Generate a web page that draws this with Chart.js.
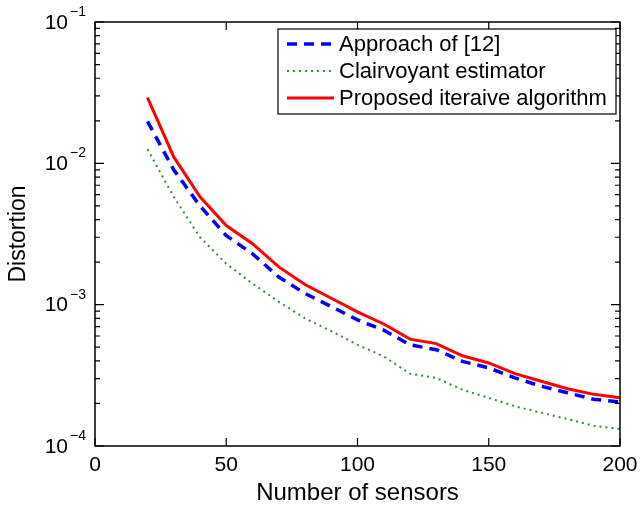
<!DOCTYPE html>
<html>
<head>
  <meta charset="utf-8">
  <script src="https://cdn.jsdelivr.net/npm/chart.js@4.4.0/dist/chart.umd.min.js"></script>
  <style>
    html, body { margin: 0; padding: 0; background: #fff; }
    #wrap { position: relative; width: 641px; height: 508px; }
  </style>
</head>
<body>
  <div id="wrap"><canvas id="myChart" width="641" height="508"></canvas></div>

  <script type="text/javascript">
    // data
    var sensors = [20, 30, 40, 50, 60, 70, 80, 90, 100, 110, 120, 130, 140, 150, 160, 170, 180, 190, 200];
    var approach12 = [0.0198, 0.0090, 0.0050, 0.00308, 0.00229, 0.00157, 0.00120, 0.00097, 0.00078, 0.00066, 0.00052, 0.00048, 0.000397, 0.000357, 0.000303, 0.000265, 0.000238, 0.000214, 0.000205];
    var clairvoyant = [0.0126, 0.0058, 0.0030, 0.00195, 0.00141, 0.00105, 0.00080, 0.00065, 0.00052, 0.00043, 0.000325, 0.000303, 0.00025, 0.000219, 0.000191, 0.000172, 0.000155, 0.000139, 0.000132];
    var proposed = [0.0292, 0.0111, 0.0058, 0.00363, 0.00270, 0.00185, 0.00139, 0.00111, 0.00089, 0.00073, 0.00057, 0.00053, 0.000435, 0.000387, 0.000325, 0.000287, 0.000254, 0.000232, 0.000219];
    var xTicks = [0, 50, 100, 150, 200];
    var yDecades = [0.0001, 0.001, 0.01, 0.1];
    var yExponents = ['\u22124', '\u22123', '\u22122', '\u22121'];

    var FONT = '"Liberation Sans", Arial, Helvetica, sans-serif';

    function pts(ys) {
      return ys.map(function(v, i) { return { x: sensors[i], y: v }; });
    }

    // frame, inward ticks, y labels with exponents, legend box
    var matlabAxes = {
      id: 'matlabAxes',
      afterDraw: function(chart) {
        var ctx = chart.ctx;
        var a = chart.chartArea;
        var xs = chart.scales.x, ys = chart.scales.y;
        ctx.save();
        ctx.strokeStyle = '#000';
        ctx.lineWidth = 1.5;
        ctx.strokeRect(a.left, a.top, a.right - a.left, a.bottom - a.top);

        ctx.lineWidth = 1.2;
        ctx.beginPath();
        xTicks.forEach(function(t) {
          var px = xs.getPixelForValue(t);
          ctx.moveTo(px, a.bottom); ctx.lineTo(px, a.bottom - 8);
          ctx.moveTo(px, a.top); ctx.lineTo(px, a.top + 8);
        });
        yDecades.forEach(function(d, k) {
          var py = ys.getPixelForValue(d);
          ctx.moveTo(a.left, py); ctx.lineTo(a.left + 9, py);
          ctx.moveTo(a.right, py); ctx.lineTo(a.right - 9, py);
          if (k < yDecades.length - 1) {
            for (var m = 2; m <= 9; m++) {
              var pm = ys.getPixelForValue(d * m);
              ctx.moveTo(a.left, pm); ctx.lineTo(a.left + 5, pm);
              ctx.moveTo(a.right, pm); ctx.lineTo(a.right - 5, pm);
            }
          }
        });
        ctx.stroke();

        // y tick labels 10^n
        ctx.fillStyle = '#000';
        yDecades.forEach(function(d, k) {
          var py = ys.getPixelForValue(d);
          ctx.font = '14px ' + FONT;
          var ew = ctx.measureText(yExponents[k]).width;
          var endX = a.left - 9;
          ctx.textAlign = 'left';
          ctx.textBaseline = 'alphabetic';
          ctx.fillText(yExponents[k], endX - ew, py - 6);
          ctx.font = '21px ' + FONT;
          ctx.textAlign = 'right';
          ctx.textBaseline = 'middle';
          ctx.fillText('10', endX - ew - 2, py + 1);
        });

        // legend
        var lx = a.left + 183, ly = a.top + 7, lw = 338, lh = 85;
        ctx.fillStyle = '#fff';
        ctx.fillRect(lx, ly, lw, lh);
        ctx.strokeStyle = '#000';
        ctx.lineWidth = 1.2;
        ctx.setLineDash([]);
        ctx.strokeRect(lx, ly, lw, lh);
        var order = [0, 1, 2];
        order.forEach(function(di, r) {
          var ds = chart.data.datasets[di];
          var cy = ly + 15 + r * 27;
          ctx.save();
          ctx.strokeStyle = ds.borderColor;
          ctx.lineWidth = ds.borderWidth;
          ctx.setLineDash(ds.borderDash || []);
          ctx.beginPath();
          ctx.moveTo(lx + 9, cy);
          ctx.lineTo(lx + 56, cy);
          ctx.stroke();
          ctx.restore();
          ctx.fillStyle = '#000';
          ctx.font = '22px ' + FONT;
          ctx.textAlign = 'left';
          ctx.textBaseline = 'middle';
          ctx.fillText(ds.label, lx + 61, cy + 1);
        });
        ctx.restore();
      }
    };

    var ctx = document.getElementById('myChart').getContext('2d');
    var chart = new Chart(ctx, {
      type: 'line',
      data: {
        datasets: [
          { label: 'Approach of [12]', data: pts(approach12), borderColor: '#0000ff', borderWidth: 3.5, borderDash: [10, 7], order: 2 },
          { label: 'Clairvoyant estimator', data: pts(clairvoyant), borderColor: '#2f922f', borderWidth: 2, borderDash: [2, 4], order: 3 },
          { label: 'Proposed iteraive algorithm', data: pts(proposed), borderColor: '#ff0000', borderWidth: 3, order: 1 }
        ]
      },
      options: {
        responsive: false,
        animation: false,
        events: [],
        elements: { point: { radius: 0 }, line: { tension: 0, fill: false } },
        layout: { padding: { left: 0, right: 21, top: 22, bottom: 0 } },
        plugins: { legend: { display: false }, tooltip: { enabled: false } },
        scales: {
          x: {
            type: 'linear', min: 0, max: 200,
            grid: { display: false, drawTicks: false },
            border: { display: false },
            ticks: {
              stepSize: 50, padding: 7, color: '#000',
              font: { family: FONT, size: 21 },
              maxRotation: 0
            },
            title: {
              display: true, text: 'Number of sensors', color: '#000',
              font: { family: FONT, size: 24 },
              padding: { top: 0, bottom: 0 }
            },
            afterFit: function(s) { s.height = 62; s.paddingRight = 0; }
          },
          y: {
            type: 'logarithmic', min: 0.0001, max: 0.1,
            grid: { display: false, drawTicks: false },
            border: { display: false },
            ticks: { display: false },
            title: {
              display: true, text: 'Distortion', color: '#000',
              font: { family: FONT, size: 23 },
              padding: { top: 5, bottom: 0 }
            },
            afterFit: function(s) { s.width = 95; }
          }
        }
      },
      plugins: [matlabAxes]
    });
  </script>
</body>
</html>
